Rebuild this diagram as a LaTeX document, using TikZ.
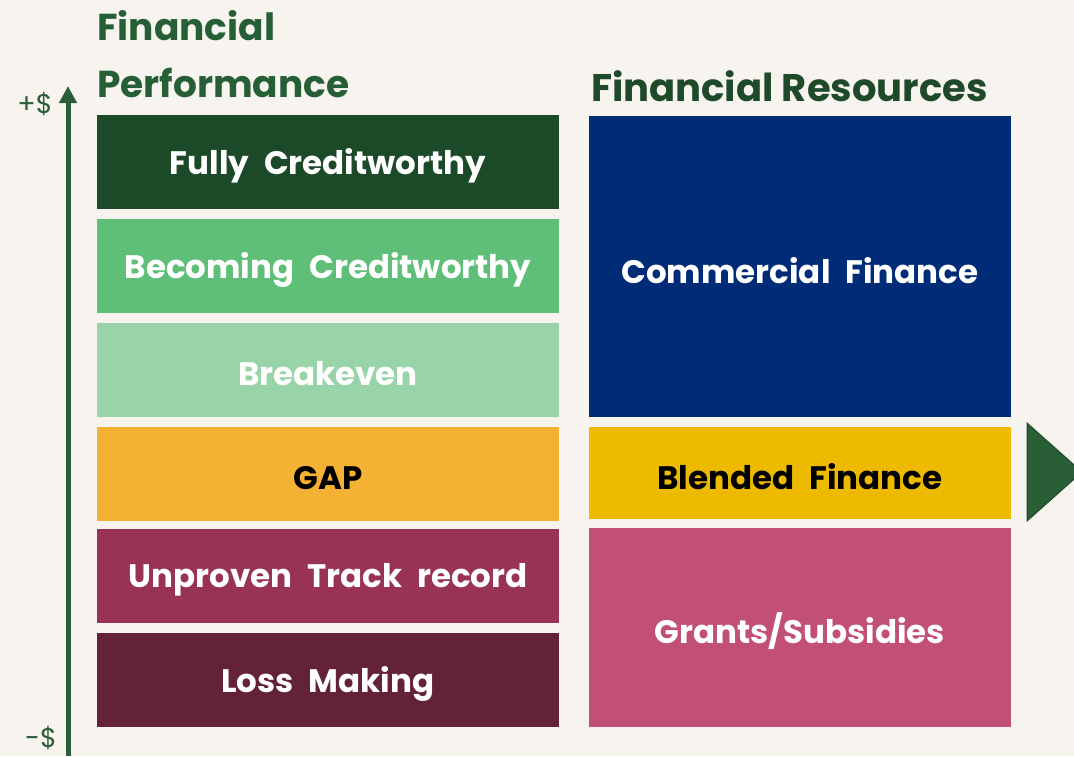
\documentclass[tikz,border=0pt]{standalone}
\usepackage{fontspec}
\setmainfont{Poppins}
\definecolor{bg}{HTML}{F7F3EE}
\definecolor{dkgreen}{HTML}{1C4A28}
\definecolor{midgreen}{HTML}{5FBF78}
\definecolor{ltgreen}{HTML}{98D4A8}
\definecolor{gapor}{HTML}{F3B233}
\definecolor{unpr}{HTML}{993257}
\definecolor{loss}{HTML}{64213A}
\definecolor{comm}{HTML}{002B77}
\definecolor{blend}{HTML}{EDBA00}
\definecolor{grant}{HTML}{C24F77}
\definecolor{axisgreen}{HTML}{2A5E37}
\definecolor{titlegreen}{HTML}{265E36}
\definecolor{title2}{HTML}{1E4A2A}
\usetikzlibrary{arrows.meta}
\newcommand{\ws}{\hspace{15pt}}
\begin{document}
\begin{tikzpicture}[x=1pt,y=-1pt,
  lbox/.style={minimum width=462pt,minimum height=94pt,inner sep=0pt,text=white,font=\fontsize{32.5}{36}\selectfont\bfseries},
  rbox/.style={minimum width=422pt,inner sep=0pt,text=white,font=\fontsize{32.5}{36}\selectfont\bfseries},
  ttl/.style={anchor=base west,inner sep=0pt,font=\fontsize{37.5}{44}\selectfont\bfseries},
  axlbl/.style={inner sep=0pt,text=axisgreen,font=\fontsize{27}{30}\selectfont}]
\fill[bg] (0,0) rectangle (1074,756);
\useasboundingbox (0,0) rectangle (1074,756);
% left column
\node[lbox,fill=dkgreen] (fc) at (328,162) {};
\node[lbox,fill=midgreen] (bc) at (328,266) {};
\node[lbox,fill=ltgreen] (be) at (328,369.5) {};
\node[lbox,fill=gapor] (gap) at (328,474) {};
\node[lbox,fill=unpr] (ut) at (328,576) {};
\node[lbox,fill=loss] (lm) at (328,679.5) {};
\node[lbox,minimum height=0pt] at ([yshift=-4pt]fc.center) {Fully\ws Creditworthy};
\node[lbox,minimum height=0pt] at ([yshift=-4pt]bc.center) {Becoming\ws Creditworthy};
\node[lbox,minimum height=0pt] at ([yshift=-4pt]be.center) {Breakeven};
\node[lbox,minimum height=0pt,text=black] at ([yshift=-4pt]gap.center) {GAP};
\node[lbox,minimum height=0pt] at ([yshift=-4pt]ut.center) {Unproven\ws Track\ws record};
\node[lbox,minimum height=0pt] at ([yshift=-4pt]lm.center) {Loss\ws Making};
% right column
\node[rbox,fill=comm,minimum height=301pt] (cf) at (800,266.5) {};
\node[rbox,fill=blend,minimum height=92pt] (bf) at (800,473) {};
\node[rbox,fill=grant,minimum height=199pt] (gs) at (800,627.5) {};
\node[rbox] at ([yshift=-4pt]cf.center) {Commercial\ws Finance};
\node[rbox,text=black] at ([yshift=-4pt]bf.center) {Blended\ws Finance};
\node[rbox] at ([yshift=-4pt]gs.center) {Grants/Subsidies};
% titles
\node[ttl,text=titlegreen] (t1) at (97,40) {Financial};
\node[ttl,text=titlegreen] (t2) at (97,97) {Performance};
\node[ttl,text=title2,font=\fontsize{38.5}{44}\selectfont\bfseries] (t3) at (591,101) {Financial Resources};
% axis
\coordinate (abot) at (68,756);
\coordinate (atop) at (68,86);
\draw[axisgreen,line width=5pt,-{Triangle[width=17pt,length=17pt]}] (abot) -- (atop);
\node[axlbl] (plus) at (35,104) {+\$};
\node[axlbl] (minus) at (41,738) {-\$};
% triangle
\fill[axisgreen,draw=dkgreen,line width=1pt] (1027,423) -- (1082,472) -- (1027,521) -- cycle;
\end{tikzpicture}
\end{document}
